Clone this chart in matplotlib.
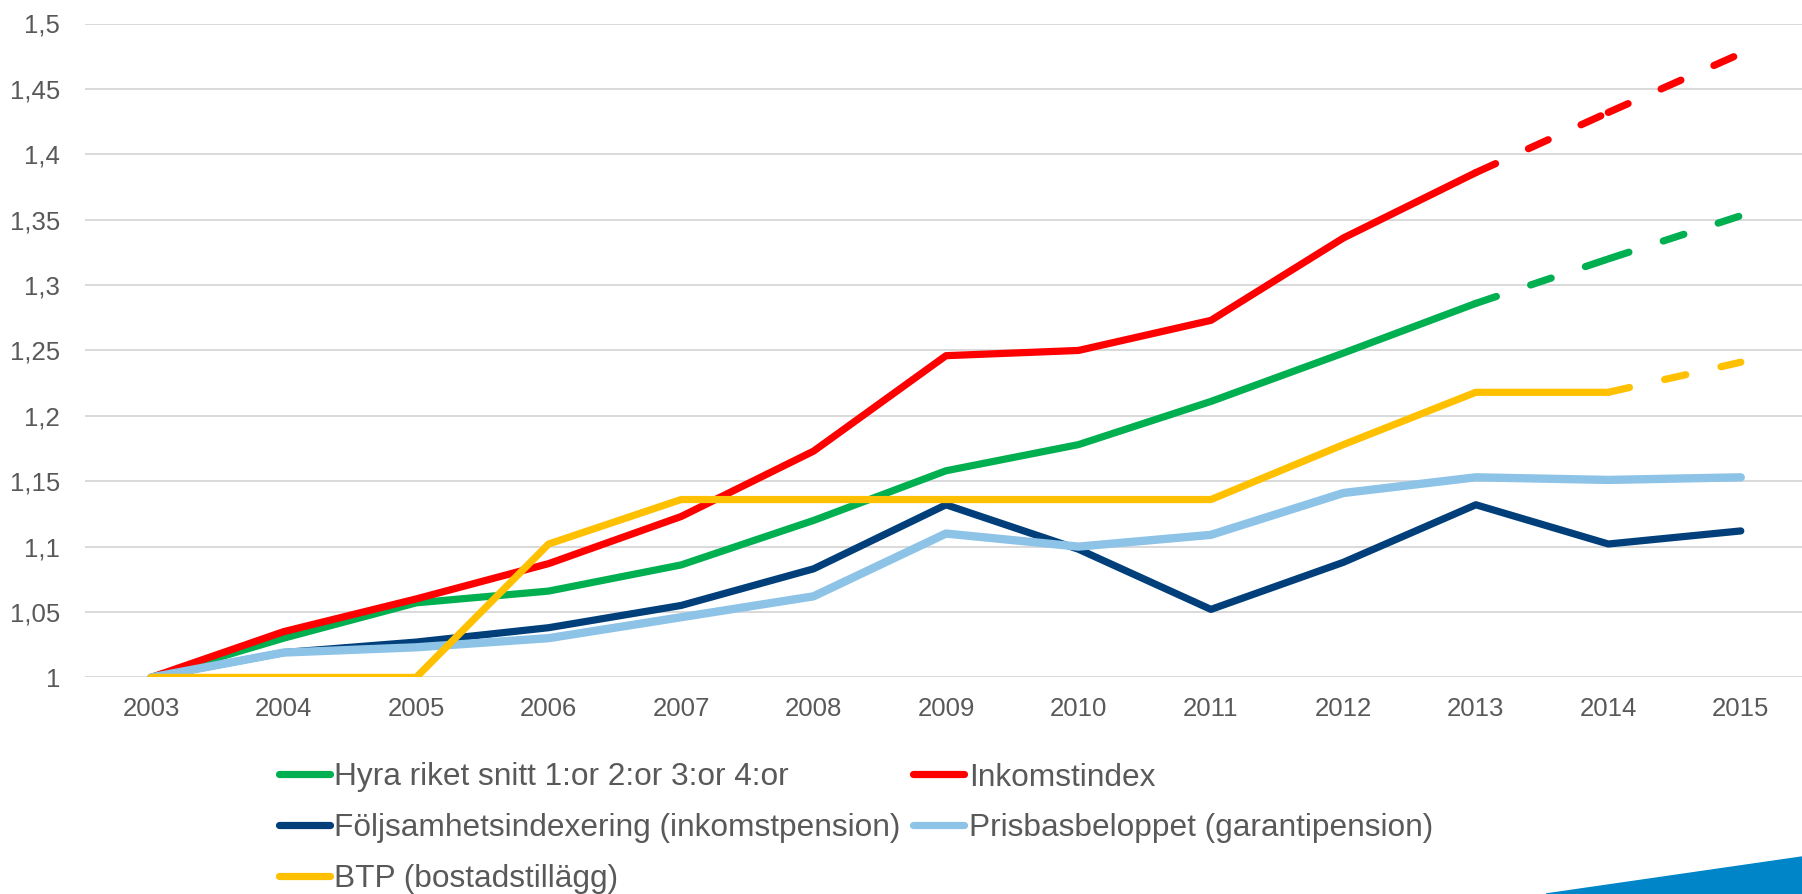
import numpy as np
import matplotlib.pyplot as plt
from matplotlib.patches import Polygon

plt.rcParams['font.family'] = ['Liberation Sans', 'DejaVu Sans']

years = ["2003", "2004", "2005", "2006", "2007", "2008", "2009",
         "2010", "2011", "2012", "2013", "2014", "2015"]

hyra = [1.0, 1.030, 1.057, 1.066, 1.086, 1.120, 1.158, 1.178, 1.211, 1.248, 1.286, 1.320, 1.353]
inkomst = [1.0, 1.035, 1.060, 1.087, 1.123, 1.173, 1.246, 1.250, 1.273, 1.336, 1.386, 1.432, 1.477]
foljs = [1.0, 1.019, 1.027, 1.038, 1.055, 1.083, 1.132, 1.098, 1.052, 1.088, 1.132, 1.102, 1.112]
prisbas = [1.0, 1.019, 1.023, 1.030, 1.046, 1.062, 1.110, 1.100, 1.109, 1.141, 1.153, 1.151, 1.153]
btp = [1.0, 1.0, 1.0, 1.102, 1.136, 1.136, 1.136, 1.136, 1.136, 1.178, 1.218, 1.218, 1.241]

# index where each series turns into a forecast (dashed)
dash_from = {"hyra": 10, "inkomst": 10, "btp": 11}

labels = ["Hyra riket snitt 1:or 2:or 3:or 4:or", "Inkomstindex",
          "Följsamhetsindexering (inkomstpension)", "Prisbasbeloppet (garantipension)",
          "BTP (bostadstillägg)"]

yticks = [1.0, 1.05, 1.1, 1.15, 1.2, 1.25, 1.3, 1.35, 1.4, 1.45, 1.5]
ytick_labels = ["1", "1,05", "1,1", "1,15", "1,2", "1,25", "1,3", "1,35", "1,4", "1,45", "1,5"]

GREEN = "#00B050"
RED = "#FF0000"
NAVY = "#003F7A"
LIGHT = "#8CC3E7"
YELLOW = "#FFC000"
TXT = "#595959"
LW = 5.2

W, H = 1802, 894
fig = plt.figure(figsize=(W / 100, H / 100), dpi=100)
ax = fig.add_axes([85 / W, (H - 677.4) / H, 1722 / W, (677.4 - 23.5) / H])

x = np.arange(len(years))


def draw(vals, color, cut=None, lw=LW):
    n = len(vals) - 1 if cut is None else cut
    ax.plot(x[:n + 1], vals[:n + 1], color=color, lw=lw,
            solid_capstyle='round', solid_joinstyle='round', zorder=3)
    if cut is None:
        return
    # excel restarts the dash pattern on every segment
    for i in range(cut, len(vals) - 1):
        ax.plot(x[i:i + 2], vals[i:i + 2], color=color, lw=lw,
                dashes=(3.0, 5.0), dash_capstyle='round', zorder=3)


# series order as in excel: first one at the back
draw(hyra, GREEN, dash_from["hyra"])
draw(inkomst, RED, dash_from["inkomst"])
draw(foljs, NAVY)
draw(prisbas, LIGHT, lw=6.0)
draw(btp, YELLOW, dash_from["btp"])

ax.set_xlim(-0.5, len(years) - 0.5)
ax.set_ylim(1.0, 1.5)
ax.set_xticks(x)
ax.set_xticklabels(years)
ax.set_yticks(yticks)
ax.set_yticklabels(ytick_labels)
ax.tick_params(axis='both', length=0, labelsize=18.5, colors=TXT)
ax.tick_params(axis='y', pad=18)
ax.tick_params(axis='x', pad=14)
ax.grid(axis='y', color="#D9D9D9", lw=1.4, zorder=0)
ax.set_axisbelow(True)
for s in ax.spines.values():
    s.set_visible(False)

# legend, row-major order like the original
cols = [GREEN, NAVY, YELLOW, RED, LIGHT]
order = [labels[0], labels[2], labels[4], labels[1], labels[3]]
handles = [plt.Line2D([], [], color=c, lw=LW, solid_capstyle='round') for c in cols]
fig.legend(handles, order, ncol=2, loc='upper left',
           bbox_to_anchor=(279 / W, (H - 762.5) / H), frameon=False,
           fontsize=22.8, labelcolor=TXT, handlelength=1.6, handletextpad=0.15,
           columnspacing=0.4, labelspacing=0.65, borderpad=0, borderaxespad=0)

# slide decoration in the corner
fig.patches.append(Polygon([(1546 / W, 0), (1.0, 37 / H), (1.0, 0)],
                           closed=True, transform=fig.transFigure,
                           color="#0085C8", zorder=0))

fig.savefig("out.png", dpi=100)
